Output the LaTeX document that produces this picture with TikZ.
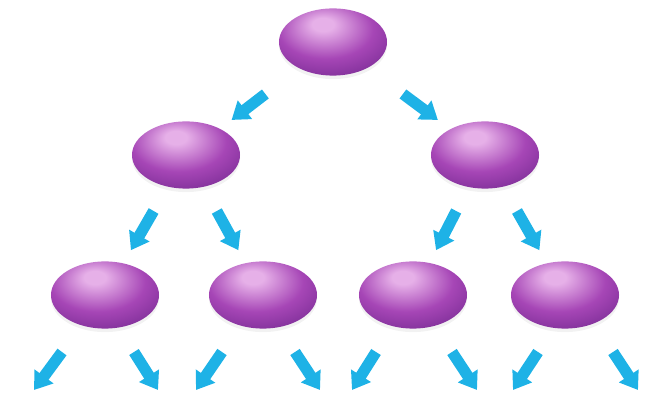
\documentclass[tikz,border=0pt]{standalone}
\usepackage{tikz}
\usetikzlibrary{arrows.meta, calc, shapes.geometric, shadows}
\definecolor{deeppurple}{RGB}{108,36,138}
\definecolor{midpurple}{RGB}{166,70,182}
\definecolor{glowpink}{RGB}{230,176,232}
\definecolor{arrowblue}{RGB}{30,178,230}
\pgfdeclareradialshading{purpleglow}{\pgfpoint{-5bp}{14bp}}{%
    color(0bp)=(glowpink); color(5bp)=(glowpink); color(22bp)=(midpurple);
    color(42bp)=(deeppurple); color(70bp)=(deeppurple)}
\tikzset{
    member/.style={
        ellipse,
        shade,
        shading=purpleglow,
        minimum width=2.7cm,
        minimum height=1.68cm,
        inner sep=0pt,
        drop shadow={shadow xshift=0pt, shadow yshift=-2.5pt, opacity=0.1}
    },
    push/.style={
        -{Triangle[length=12pt, width=16pt]},
        line width=8pt,
        draw=arrowblue
    }
}
\begin{document}
\begin{tikzpicture}[x=0.025cm, y=-0.025cm]

\useasboundingbox (0,0) rectangle (664,418);

% =========================
% Livelli
% =========================
\node[member] (root) at (333,42) {};

\node[member] (midL) at (186,155) {};
\node[member] (midR) at (485,155) {};

\node[member] (leafA) at (105,295) {};
\node[member] (leafB) at (263,295) {};
\node[member] (leafC) at (413,295) {};
\node[member] (leafD) at (565,295) {};

% =========================
% Frecce tra i livelli
% =========================
\draw[push] ($(root)!0.46!(midL)$) -- ($(root)!0.69!(midL)$);
\draw[push] ($(root)!0.46!(midR)$) -- ($(root)!0.69!(midR)$);

\foreach \up/\down in {midL/leafA, midL/leafB, midR/leafC, midR/leafD}
    \draw[push] ($(\up)!0.40!(\down)$) -- ($(\up)!0.68!(\down)$);

% =========================
% Frecce libere sotto le foglie
% =========================
\foreach \leaf/\lt/\lh/\rt/\rh in {leafA/-43/-71/29/53, leafB/-41/-67/32/57,
                                     leafC/-37/-61/39/64, leafD/-27/-52/48/73}{
    \coordinate (\leaf-lt) at ($(\leaf)+(\lt,57)$);
    \coordinate (\leaf-lh) at ($(\leaf)+(\lh,95)$);
    \coordinate (\leaf-rt) at ($(\leaf)+(\rt,57)$);
    \coordinate (\leaf-rh) at ($(\leaf)+(\rh,95)$);
    \draw[push] (\leaf-lt) -- (\leaf-lh);
    \draw[push] (\leaf-rt) -- (\leaf-rh);
}

\end{tikzpicture}
\end{document}
